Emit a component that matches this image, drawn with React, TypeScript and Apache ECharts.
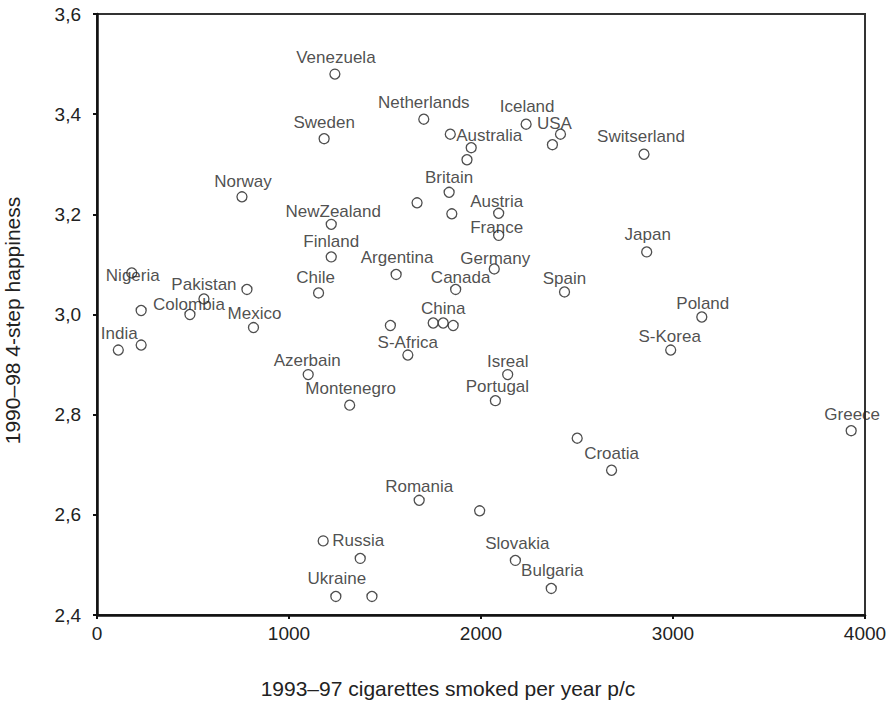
import React, { useEffect, useRef } from "react";
import * as echarts from "echarts";

// Country names ("" for unlabeled points)
const countries = [
  "Venezuela", "Netherlands", "Sweden", "", "Australia", "", "Iceland", "USA", "", "Switserland",
  "Norway", "Britain", "", "", "Austria", "France", "NewZealand", "Japan", "Finland", "Nigeria",
  "Argentina", "Germany", "", "Chile", "Canada", "Spain", "Pakistan", "", "Colombia", "Poland",
  "Mexico", "India", "", "", "", "China", "", "S-Africa", "S-Korea", "Azerbain",
  "Isreal", "Montenegro", "Portugal", "Greece", "", "Croatia", "Romania", "", "Russia", "",
  "Slovakia", "Bulgaria", "Ukraine", "",
];

// 1993–97 cigarettes smoked per year per capita
const cigarettes = [
  1239, 1702, 1183, 1840, 1949, 1927, 2235, 2414, 2372, 2849,
  755, 1834, 1667, 1848, 2092, 2092, 1220, 2863, 1220, 181,
  1558, 2069, 781, 1154, 1868, 2435, 557, 230, 484, 3150,
  815, 111, 230, 1528, 1751, 1803, 1855, 1619, 2988, 1100,
  2139, 1316, 2075, 3928, 2501, 2680, 1678, 1993, 1178, 1371,
  2179, 2366, 1244, 1432,
];

// 1990–98 4-step happiness
const happiness = [
  3.48, 3.39, 3.351, 3.36, 3.333, 3.309, 3.38, 3.36, 3.339, 3.32,
  3.235, 3.244, 3.223, 3.201, 3.202, 3.158, 3.18, 3.125, 3.115, 3.083,
  3.08, 3.091, 3.05, 3.043, 3.05, 3.045, 3.031, 3.008, 3.0, 2.995,
  2.974, 2.929, 2.939, 2.978, 2.983, 2.983, 2.978, 2.919, 2.929, 2.88,
  2.88, 2.819, 2.828, 2.768, 2.753, 2.689, 2.629, 2.608, 2.548, 2.513,
  2.509, 2.453, 2.437, 2.437,
];

const xTicks = [0, 1000, 2000, 3000, 4000];
const yTicks = [2.4, 2.6, 2.8, 3.0, 3.2, 3.4, 3.6];

// Label placement relative to each point's centre (px)
const labelOffsets: Record<string, [number, number]> = {
  Venezuela: [1, -17],
  Netherlands: [0, -17],
  Sweden: [0, -16],
  Australia: [18, -12],
  Iceland: [1, -18],
  USA: [-6, -11],
  Switserland: [-3, -18],
  Norway: [1, -15],
  Britain: [0, -15],
  Austria: [-2, -12],
  France: [-2, -8],
  NewZealand: [2, -13],
  Japan: [1, -17],
  Finland: [0, -15],
  Nigeria: [1, 3],
  Argentina: [1, -17],
  Germany: [1, -10],
  Chile: [-3, -15],
  Canada: [5, -12],
  Spain: [0, -13],
  Pakistan: [0, -14],
  Colombia: [-1, -10],
  Poland: [1, -14],
  Mexico: [1, -14],
  India: [1, -17],
  China: [0, -15],
  "S-Africa": [0, -13],
  "S-Korea": [-1, -14],
  Azerbain: [-1, -14],
  Isreal: [0, -13],
  Montenegro: [1, -17],
  Portugal: [2, -14],
  Greece: [1, -16],
  Croatia: [0, -17],
  Romania: [0, -14],
  Russia: [35, 0],
  Slovakia: [2, -17],
  Bulgaria: [1, -18],
  Ukraine: [1, -18],
};

const FONT = '"Liberation Sans", Arial, Helvetica, sans-serif';
const TEXT = "#222";

export default function App() {
  const ref = useRef<HTMLDivElement>(null);

  useEffect(() => {
    if (!ref.current) return;
    const chart = echarts.init(ref.current, undefined, { renderer: "svg" });

    const data = countries.map((name, i) => ({
      name,
      value: [cigarettes[i], happiness[i]],
      label: { show: name !== "" },
    }));

    chart.setOption({
      animation: false,
      backgroundColor: "#fff",
      textStyle: { fontFamily: FONT },
      grid: {
        left: 97,
        right: 22,
        top: 14,
        bottom: 97,
        containLabel: false,
        outerBoundsMode: "none",
        show: true,
        borderColor: "#333",
        borderWidth: 2,
      },
      xAxis: {
        type: "value",
        min: xTicks[0],
        max: xTicks[xTicks.length - 1],
        interval: 1000,
        name: "1993–97 cigarettes smoked per year p/c",
        nameLocation: "middle",
        nameGap: 63,
        nameTextStyle: {
          fontSize: 21,
          color: TEXT,
          fontFamily: FONT,
          padding: [0, 66, 0, 0],
        },
        axisLine: { show: true, lineStyle: { color: "#111", width: 2.5 } },
        axisTick: { show: true, length: 4, lineStyle: { color: "#111", width: 2 } },
        axisLabel: {
          fontSize: 19,
          color: TEXT,
          margin: 9,
          fontFamily: FONT,
          formatter: (v: number) => String(v),
        },
        splitLine: { show: false },
      },
      yAxis: {
        type: "value",
        min: yTicks[0],
        max: yTicks[yTicks.length - 1],
        interval: 0.2,
        name: "1990–98 4-step happiness",
        nameLocation: "middle",
        nameGap: 74,
        nameTextStyle: {
          fontSize: 21,
          color: TEXT,
          fontFamily: FONT,
          padding: [0, 12, 0, 0],
        },
        axisLine: { show: true, lineStyle: { color: "#111", width: 2.5 } },
        axisTick: { show: true, length: 4, lineStyle: { color: "#111", width: 2 } },
        axisLabel: {
          fontSize: 19,
          color: TEXT,
          margin: 16,
          fontFamily: FONT,
          formatter: (v: number) => v.toFixed(1).replace(".", ","),
        },
        splitLine: { show: false },
      },
      series: [
        {
          type: "scatter",
          symbol: "circle",
          symbolSize: 10,
          itemStyle: { color: "#fff", borderColor: "#222", borderWidth: 1.3 },
          label: {
            position: "inside",
            formatter: "{b}",
            fontSize: 17,
            color: TEXT,
            fontFamily: FONT,
            align: "center",
            verticalAlign: "middle",
          },
          labelLayout: (params: any) => {
            const off = labelOffsets[countries[params.dataIndex]] || [0, 0];
            return { dx: off[0], dy: off[1], hideOverlap: false };
          },
          emphasis: { disabled: true },
          data,
        },
      ],
    });

    return () => chart.dispose();
  }, []);

  return (
    <div
      ref={ref}
      style={{ position: "fixed", left: 0, top: 0, width: 887, height: 712 }}
    />
  );
}
